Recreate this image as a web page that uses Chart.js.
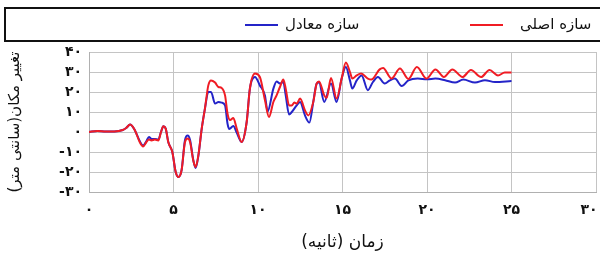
<!DOCTYPE html>
<html lang="fa">
<head>
<meta charset="utf-8">
<script src="https://cdn.jsdelivr.net/npm/chart.js@4.4.1/dist/chart.umd.min.js"></script>
<style>
  body { margin: 0; background: #fff; }
  #wrap { position: relative; width: 600px; height: 255px; overflow: hidden; }
  #legend { position: absolute; left: 4px; top: 7px; width: 610px; height: 31px; border: 2px solid #111; }
  .lg-text { position: absolute; top: 0; height: 31px; line-height: 31px; font-family: 'DejaVu Sans', sans-serif; font-size: 15px; color: #111; direction: rtl; white-space: nowrap; }
  .lg-line { position: absolute; top: 15px; height: 2px; }
</style>
</head>
<body>
<div id="wrap">
  <canvas id="chart" width="600" height="255"></canvas>
  <div id="legend"></div>
</div>
<script>
// سازه اصلی (red)
const tRed = [0, 0.5, 1.0, 1.5, 2.0, 2.2, 2.43, 2.72, 3.0, 3.2, 3.4, 3.55, 3.7, 3.9, 4.1, 4.26, 4.4, 4.54, 4.69, 4.93, 5.13, 5.29, 5.48, 5.68, 5.84, 5.98, 6.17, 6.31, 6.47, 6.67, 6.86, 7.06, 7.22, 7.46, 7.66, 7.85, 8.05, 8.2, 8.35, 8.54, 8.74, 9.03, 9.33, 9.52, 9.82, 10.11, 10.41, 10.65, 10.91, 11.1, 11.3, 11.5, 11.64, 11.84, 12.0, 12.15, 12.29, 12.49, 12.78, 12.98, 13.27, 13.47, 13.61, 13.92, 14.06, 14.32, 14.65, 14.95, 15.2, 15.44, 15.58, 15.84, 16.1, 16.5, 16.7, 17.2, 17.4, 17.9, 18.4, 18.9, 19.4, 19.97, 20.5, 21.0, 21.5, 22.1, 22.6, 23.2, 23.7, 24.2, 24.6, 25.0];
const vRed = [0, 0.5, 0.3, 0.3, 1.0, 2.0, 3.7, 0.8, -5, -7.2, -5, -3.8, -4.2, -3.8, -4.2, 0, 2.9, 1.7, -5, -10, -20, -22.5, -19, -5, -3.3, -5, -14.2, -17.5, -11.7, 1.7, 11.7, 23.3, 25.8, 24.7, 22.5, 22, 18.3, 9, 6, 7, 1.7, -5, 5, 21.7, 29.2, 27.5, 16, 7.5, 15, 18.3, 22.5, 26.2, 21.7, 13.3, 13.3, 14.7, 14.2, 16.7, 10.8, 8.3, 15, 24.2, 25.3, 18.3, 17, 27, 16.7, 26.7, 34.7, 30, 26.7, 28.3, 29.2, 26.7, 26.2, 31.3, 32, 26.7, 31.7, 26.5, 32.5, 26.7, 31.3, 27.5, 31.3, 27.5, 31, 27.5, 31, 28.3, 29.7, 29.7];

// سازه معادل (blue)
const tBlue = [0, 0.5, 1.0, 1.5, 2.0, 2.2, 2.43, 2.72, 3.0, 3.2, 3.4, 3.55, 3.7, 3.9, 4.1, 4.26, 4.4, 4.54, 4.69, 4.93, 5.13, 5.29, 5.48, 5.68, 5.84, 5.98, 6.17, 6.31, 6.47, 6.67, 6.86, 7.06, 7.22, 7.46, 7.66, 7.85, 8.05, 8.2, 8.3, 8.54, 8.74, 9.03, 9.33, 9.52, 9.82, 10.11, 10.41, 10.57, 10.91, 11.1, 11.3, 11.5, 11.64, 11.84, 12.0, 12.29, 12.49, 12.78, 13.04, 13.27, 13.47, 13.61, 13.92, 14.32, 14.65, 14.95, 15.2, 15.44, 15.58, 15.84, 16.13, 16.5, 16.8, 17.1, 17.5, 17.8, 18.1, 18.5, 18.9, 19.45, 20.0, 20.5, 21.07, 21.66, 22.15, 22.84, 23.43, 24.02, 25.0];
const vBlue = [0, 0.5, 0.3, 0.3, 1.0, 2.0, 3.7, 0.8, -4.5, -6.8, -4.5, -2.5, -3.5, -3.5, -3.8, 0, 2.9, 1.7, -5, -10, -20, -22.5, -19, -4, -1.7, -4, -14, -18, -12, 1.7, 11.7, 20, 20, 14.2, 15, 14.7, 13.3, 4, 1.5, 3, -0.3, -5, 5, 21.7, 27.5, 23.3, 18.3, 10.3, 21.7, 25.3, 24.2, 25, 18.3, 8.7, 10, 13.3, 15, 8.3, 4.7, 15, 24.2, 24.7, 15, 24.2, 15, 26.7, 32.5, 25.8, 21.7, 25.8, 28.3, 20.9, 25, 27.5, 24.2, 25.8, 26.7, 23, 25.8, 26.7, 26.4, 26.7, 25.9, 24.7, 26.2, 24.7, 25.9, 25, 25.5];

const seriesNames = ['سازه اصلی', 'سازه معادل'];
const seriesColors = ['#f01c24', '#2424c8'];

const xTickValues = [0, 5, 10, 15, 20, 25, 30];
const xTickLabels = ['۰', '۵', '۱۰', '۱۵', '۲۰', '۲۵', '۳۰'];
const yTickValues = [-30, -20, -10, 0, 10, 20, 30, 40];
const yTickLabels = ['-۳۰', '-۲۰', '-۱۰', '۰', '۱۰', '۲۰', '۳۰', '۴۰'];

const xTitle = 'زمان (ثانیه)';
const yTitle = 'تغییر مکان(سانتی متر)';

function toPoints(ts, vs) {
    return ts.map((t, i) => ({ x: t, y: vs[i] }));
}

function tickText(values, labels) {
    return function (v) {
        const i = values.indexOf(v);
        if (i < 0) return '';
        // last x label sits at the canvas edge, nudge it inward like the original
        if (values === xTickValues && i === values.length - 1) return labels[i] + '\u2003';
        return labels[i];
    };
}

// html legend, line to the left of the text
const legendEl = document.getElementById('legend');
const legendPos = [{ line: 464, text: 514 }, { line: 239, text: 279 }];
seriesNames.forEach((name, i) => {
    const ln = document.createElement('div');
    ln.className = 'lg-line';
    ln.style.left = legendPos[i].line + 'px';
    ln.style.width = '33px';
    ln.style.background = seriesColors[i];
    legendEl.appendChild(ln);
    const tx = document.createElement('div');
    tx.className = 'lg-text';
    tx.style.left = legendPos[i].text + 'px';
    tx.textContent = name;
    legendEl.appendChild(tx);
});

const ctx = document.getElementById('chart').getContext('2d');
new Chart(ctx, {
    type: 'line',
    data: {
        datasets: [
            {
                label: seriesNames[0],
                data: toPoints(tRed, vRed),
                borderColor: seriesColors[0],
                borderWidth: 2,
                pointRadius: 0,
                cubicInterpolationMode: 'monotone'
            },
            {
                label: seriesNames[1],
                data: toPoints(tBlue, vBlue),
                borderColor: seriesColors[1],
                borderWidth: 2,
                pointRadius: 0,
                cubicInterpolationMode: 'monotone'
            }
        ]
    },
    options: {
        responsive: false,
        animation: false,
        layout: { padding: { top: 52, right: 4, left: 0, bottom: 0 } },
        plugins: { legend: { display: false }, tooltip: { enabled: false } },
        scales: {
            x: {
                type: 'linear',
                min: 0,
                max: 30,
                afterBuildTicks: s => { s.ticks = xTickValues.map(v => ({ value: v })); },
                afterFit: s => { s.height = 63; s.paddingLeft = 0; s.paddingRight = 0; },
                ticks: {
                    callback: tickText(xTickValues, xTickLabels),
                    maxRotation: 0,
                    padding: 10,
                    color: '#111',
                    font: { family: 'DejaVu Sans', size: 14, weight: 'bold' }
                },
                grid: { color: '#c4c4c4', drawTicks: false },
                border: { color: '#b0b0b0' },
                title: {
                    display: true,
                    text: xTitle,
                    color: '#111',
                    padding: { top: 4, bottom: 2 },
                    font: { family: 'DejaVu Sans', size: 17 }
                }
            },
            y: {
                min: -30,
                max: 40,
                afterBuildTicks: s => { s.ticks = yTickValues.map(v => ({ value: v })); },
                afterFit: s => { s.width = 89; s.paddingTop = 0; s.paddingBottom = 0; },
                ticks: {
                    callback: tickText(yTickValues, yTickLabels),
                    padding: 7,
                    color: '#111',
                    font: { family: 'DejaVu Sans', size: 14, weight: 'bold' }
                },
                grid: { color: '#c4c4c4', drawTicks: false },
                border: { color: '#b0b0b0' },
                title: {
                    display: true,
                    text: yTitle,
                    color: '#111',
                    padding: { top: 6, bottom: 0 },
                    font: { family: 'DejaVu Sans', size: 15 }
                }
            }
        }
    }
});
</script>
</body>
</html>
